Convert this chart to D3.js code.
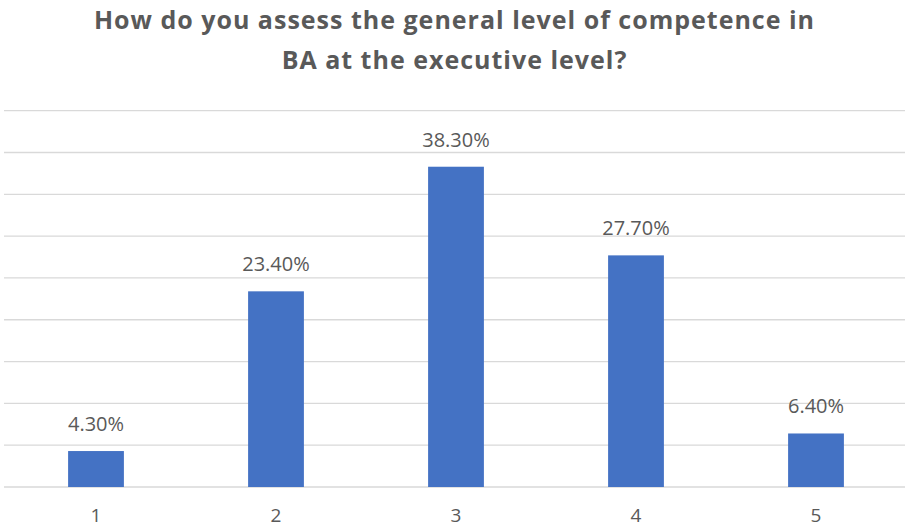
<!DOCTYPE html>
<html>
<head>
<meta charset="utf-8">
<script src="https://cdn.jsdelivr.net/npm/d3@7"></script>
<style>
  html, body { margin: 0; padding: 0; background: #fff; }
  svg { display: block; font-family: "Open Sans", "Noto Sans", sans-serif; }
</style>
</head>
<body>
<svg id="chart" width="907" height="529"></svg>
<script>
// Survey answers on a 1–5 scale and the share of respondents for each
const categories = ["1", "2", "3", "4", "5"];
const shares = [4.3, 23.4, 38.3, 27.7, 6.4];
const gridTicks = [0, 5, 10, 15, 20, 25, 30, 35, 40, 45];
const titleLines = [
  "How do you assess the general level of competence in",
  "BA at the executive level?"
];

const W = 907, H = 529;
const svg = d3.select("#chart");

const plot = { left: 6, right: 906, top: 110.7, bottom: 487 };

const x = d3.scaleBand()
  .domain(categories)
  .range([plot.left, plot.right])
  .padding(0);

const y = d3.scaleLinear()
  .domain([0, 45])
  .range([plot.bottom, plot.top]);

const barWidth = x.bandwidth() * 0.31;

// horizontal gridlines
svg.append("g")
  .selectAll("line")
  .data(gridTicks)
  .join("line")
  .attr("x1", 4)
  .attr("x2", 905)
  .attr("y1", d => y(d))
  .attr("y2", d => y(d))
  .attr("stroke", "#d9d9d9")
  .attr("stroke-width", 1.3);

// bars
svg.append("g")
  .selectAll("rect")
  .data(shares)
  .join("rect")
  .attr("x", (d, i) => x(categories[i]) + x.bandwidth() / 2 - barWidth / 2)
  .attr("y", d => y(d))
  .attr("width", barWidth)
  .attr("height", d => y(0) - y(d))
  .attr("fill", "#4472c4");

// value labels
svg.append("g")
  .selectAll("text")
  .data(shares)
  .join("text")
  .attr("x", (d, i) => x(categories[i]) + x.bandwidth() / 2)
  .attr("y", d => y(d) - 20)
  .attr("text-anchor", "middle")
  .attr("font-size", 20)
  .attr("fill", "#595959")
  .text(d => d.toFixed(2) + "%");

// category axis labels
const xAxis = d3.axisBottom(x).tickSize(0).tickPadding(0);
const gx = svg.append("g")
  .attr("transform", `translate(0,${plot.bottom})`)
  .call(xAxis);
gx.select(".domain").remove();
gx.selectAll("text")
  .attr("dy", null)
  .attr("y", 35)
  .attr("font-size", 19)
  .attr("font-family", "\"Open Sans\", sans-serif")
  .attr("fill", "#595959");

// title
svg.append("g")
  .selectAll("text")
  .data(titleLines)
  .join("text")
  .attr("x", W / 2 + 1)
  .attr("y", (d, i) => 28.5 + i * 40.5)
  .attr("text-anchor", "middle")
  .attr("font-size", 25)
  .attr("font-weight", "bold")
  .attr("letter-spacing", 1)
  .attr("fill", "#595959")
  .text(d => d);
</script>
</body>
</html>
